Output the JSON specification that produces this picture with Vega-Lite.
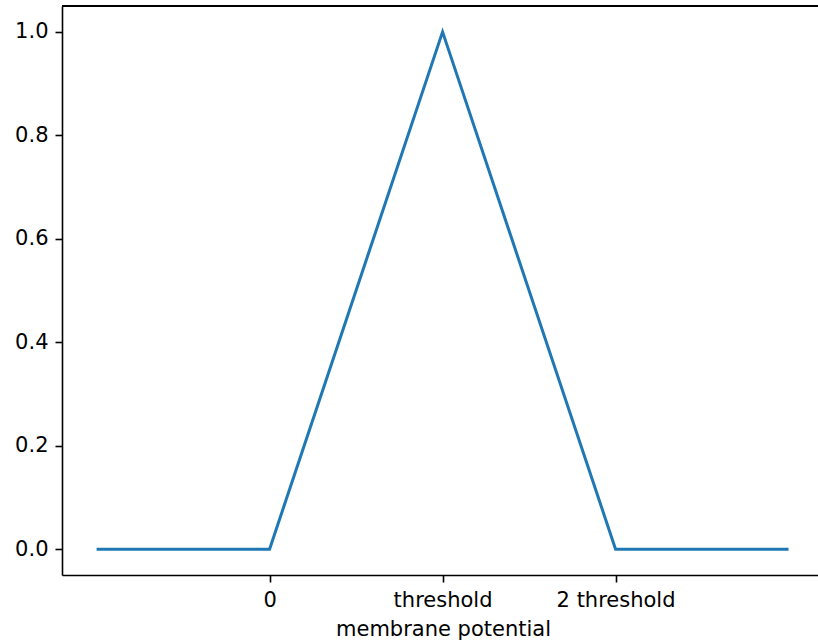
{
  "$schema": "https://vega.github.io/schema/vega-lite/v6.json",
  "width": 780,
  "height": 569,
  "autosize": {"type": "none"},
  "padding": {"left": 62, "top": 6, "right": 0, "bottom": 66},
  "background": "white",
  "config": {
    "font": "DejaVu Sans",
    "view": {"stroke": null},
    "axis": {
      "grid": false,
      "domain": true,
      "domainColor": "black",
      "domainWidth": 1.6,
      "tickColor": "black",
      "tickWidth": 1.6,
      "tickSize": 7,
      "labelPadding": 7,
      "labelFont": "DejaVu Sans",
      "labelFontSize": 21,
      "labelColor": "black",
      "titleFont": "DejaVu Sans",
      "titleFontSize": 21,
      "titleFontWeight": "normal",
      "titleColor": "black"
    }
  },
  "data": {
    "values": [
      {"u": -1, "g": 0},
      {"u": 0, "g": 0},
      {"u": 1, "g": 1},
      {"u": 2, "g": 0},
      {"u": 3, "g": 0}
    ]
  },
  "layer": [
    {
      "mark": {"type": "line", "color": "#1f77b4", "strokeWidth": 3},
      "encoding": {
        "x": {
          "field": "u",
          "type": "quantitative",
          "scale": {"domain": [-1.2, 3.309], "nice": false, "zero": false},
          "axis": {
            "values": [0, 1, 2],
            "labelExpr": "datum.value == 0 ? '0' : datum.value == 1 ? 'threshold' : '2 threshold'",
            "title": "membrane potential",
            "titlePadding": 8,
            "titleX": 381,
            "labelFlush": false
          }
        },
        "y": {
          "field": "g",
          "type": "quantitative",
          "scale": {"domain": [-0.05, 1.05], "nice": false, "zero": false},
          "axis": {
            "values": [0, 0.2, 0.4, 0.6, 0.8, 1.0],
            "format": ".1f",
            "title": null,
            "labelFlush": false
          }
        }
      }
    },
    {
      "mark": {"type": "rule", "color": "black", "strokeWidth": 1.6},
      "encoding": {
        "y": {"datum": 1.05, "type": "quantitative"}
      }
    }
  ]
}
